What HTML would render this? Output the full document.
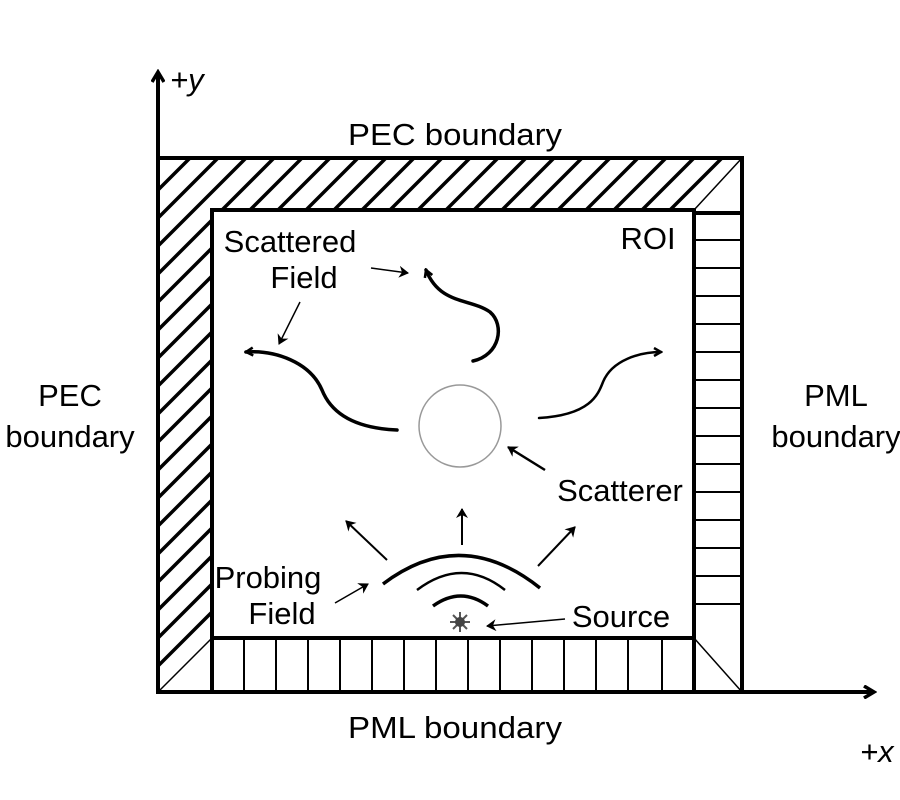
<!DOCTYPE html>
<html><head><meta charset="utf-8"><style>
html,body{margin:0;padding:0;background:#fff;overflow:hidden;width:900px;height:800px;}
svg{display:block;}
text{font-family:"Liberation Sans",Arial,sans-serif;fill:#000;}
</style></head><body>
<svg width="900" height="800" viewBox="0 0 900 800" xmlns="http://www.w3.org/2000/svg">
<defs>
<marker id="ah" markerWidth="10" markerHeight="10" refX="8" refY="5" orient="auto" markerUnits="userSpaceOnUse">
<path d="M1,1 L8,5 L1,9" fill="none" stroke="#000" stroke-width="2.5"/>
</marker>
<marker id="ahs" markerWidth="12" markerHeight="12" refX="9" refY="6" orient="auto" markerUnits="userSpaceOnUse">
<path d="M0,0 L10,6 L0,12 L3,6z" fill="#000"/>
</marker>
<marker id="ahb" markerWidth="14" markerHeight="14" refX="11" refY="7" orient="auto" markerUnits="userSpaceOnUse">
<path d="M1,1 L11,7 L1,13" fill="none" stroke="#000" stroke-width="3.5"/>
</marker>
<clipPath id="pec">
<polygon points="158,158 742,158 694,210 212,210 212,638 158,692"/>
</clipPath>
</defs>

<g clip-path="url(#pec)" stroke="#000" stroke-width="3.5">
<path d="
M158,190 l600,-600 M158,218 l600,-600 M158,246 l600,-600 M158,274 l600,-600
M158,302 l600,-600 M158,330 l600,-600 M158,358 l600,-600 M158,386 l600,-600
M158,414 l600,-600 M158,442 l600,-600 M158,470 l600,-600 M158,498 l600,-600
M158,526 l600,-600 M158,554 l600,-600 M158,582 l600,-600 M158,610 l600,-600
M158,638 l600,-600 M158,666 l600,-600 M158,694 l600,-600 M158,722 l600,-600
M158,750 l600,-600 M158,778 l600,-600 M158,806 l600,-600 M158,834 l600,-600
M158,862 l600,-600 M158,890 l600,-600 M158,918 l600,-600 M158,946 l600,-600
M158,974 l600,-600 M158,1002 l600,-600 M158,1030 l600,-600 M158,1058 l600,-600
M158,1086 l600,-600 M158,1114 l600,-600 M158,1142 l600,-600 M158,1170 l600,-600
M158,1198 l600,-600 M158,1226 l600,-600 M158,1254 l600,-600
"/>
</g>

<g stroke="#000" stroke-width="1.5">
<line x1="694" y1="210" x2="742" y2="158"/>
<line x1="212" y1="638" x2="158" y2="692"/>
<line x1="694" y1="638" x2="742" y2="692"/>
</g>

<g stroke="#000" stroke-width="2">
<path d="M694,240 H742 M694,268 H742 M694,296 H742 M694,324 H742 M694,352 H742 M694,380 H742 M694,408 H742 M694,436 H742 M694,464 H742 M694,492 H742 M694,520 H742 M694,548 H742 M694,576 H742 M694,604 H742"/>
<path d="M244,638 V692 M276,638 V692 M308,638 V692 M340,638 V692 M372,638 V692 M404,638 V692 M436,638 V692 M468,638 V692 M500,638 V692 M532,638 V692 M564,638 V692 M596,638 V692 M628,638 V692 M662,638 V692"/>
</g>

<g stroke="#000" stroke-width="4" fill="none">
<rect x="158" y="158" width="584" height="534"/>
<rect x="212" y="210" width="482" height="428"/>
<line x1="212" y1="638" x2="212" y2="692"/>
<line x1="694" y1="638" x2="694" y2="692"/>
<line x1="694" y1="213" x2="742" y2="213"/>
</g>

<line x1="158" y1="692" x2="158" y2="72" stroke="#000" stroke-width="4" marker-end="url(#ahb)"/>
<line x1="158" y1="692" x2="874" y2="692" stroke="#000" stroke-width="4" marker-end="url(#ahb)"/>

<circle cx="460" cy="426" r="41" fill="#fff" stroke="#999" stroke-width="1.5"/>

<g fill="none" stroke="#000" stroke-linecap="round">
<path d="M397,430 C350,428 330,410 322,390 C310,362 275,350 246,352" stroke-width="3.5" marker-end="url(#ah)"/>
<path d="M473,361 C500,355 505,325 490,312 C470,298 440,305 426,270" stroke-width="3.5" marker-end="url(#ah)"/>
<path d="M539,418 C590,415 598,395 603,382 C612,360 640,352 661,352" stroke-width="2.5" marker-end="url(#ah)"/>
</g>

<g fill="none" stroke="#000">
<path d="M383,584 Q461,525 540,588" stroke-width="3.5"/>
<path d="M417,590 Q462,556 505,590" stroke-width="2.5"/>
<path d="M433,606 Q461,586 488,606" stroke-width="3.5"/>
</g>
<g stroke="#555" stroke-width="2">
<path d="M460,612 V632 M450,622 H470 M453,615 L467,629 M467,615 L453,629"/>
</g>
<circle cx="460" cy="622" r="5" fill="#444"/>

<g stroke="#000" stroke-width="2">
<line x1="462" y1="545" x2="462" y2="509" marker-end="url(#ahs)"/>
<line x1="387" y1="560" x2="346" y2="521" marker-end="url(#ahs)"/>
<line x1="538" y1="566" x2="575" y2="527" marker-end="url(#ahs)"/>
</g>

<g stroke="#000" stroke-width="1.5">
<line x1="371" y1="268" x2="408" y2="273" marker-end="url(#ahs)"/>
<line x1="300" y1="302" x2="279" y2="344" marker-end="url(#ahs)"/>
<line x1="545" y1="470" x2="508" y2="447" stroke-width="2.5" marker-end="url(#ahs)"/>
<line x1="335" y1="603" x2="368" y2="584" marker-end="url(#ahs)"/>
<line x1="565" y1="619" x2="487" y2="626" marker-end="url(#ahs)"/>
</g>

<g font-size="31">
<text x="455" y="145" text-anchor="middle" textLength="214" lengthAdjust="spacingAndGlyphs">PEC boundary</text>
<text x="455" y="738" text-anchor="middle" textLength="214" lengthAdjust="spacingAndGlyphs">PML boundary</text>
<text x="70" y="406" text-anchor="middle">PEC</text>
<text x="70" y="447" text-anchor="middle">boundary</text>
<text x="836" y="406" text-anchor="middle">PML</text>
<text x="836" y="447" text-anchor="middle">boundary</text>
<text x="290" y="252" text-anchor="middle">Scattered</text>
<text x="304" y="288" text-anchor="middle">Field</text>
<text x="648" y="249" text-anchor="middle">ROI</text>
<text x="620" y="501" text-anchor="middle">Scatterer</text>
<text x="268" y="588" text-anchor="middle">Probing</text>
<text x="282" y="624" text-anchor="middle">Field</text>
<text x="621" y="627" text-anchor="middle">Source</text>
<text x="170" y="90" font-style="italic">+y</text>
<text x="860" y="762" font-style="italic">+x</text>
</g>
</svg>
</body></html>
